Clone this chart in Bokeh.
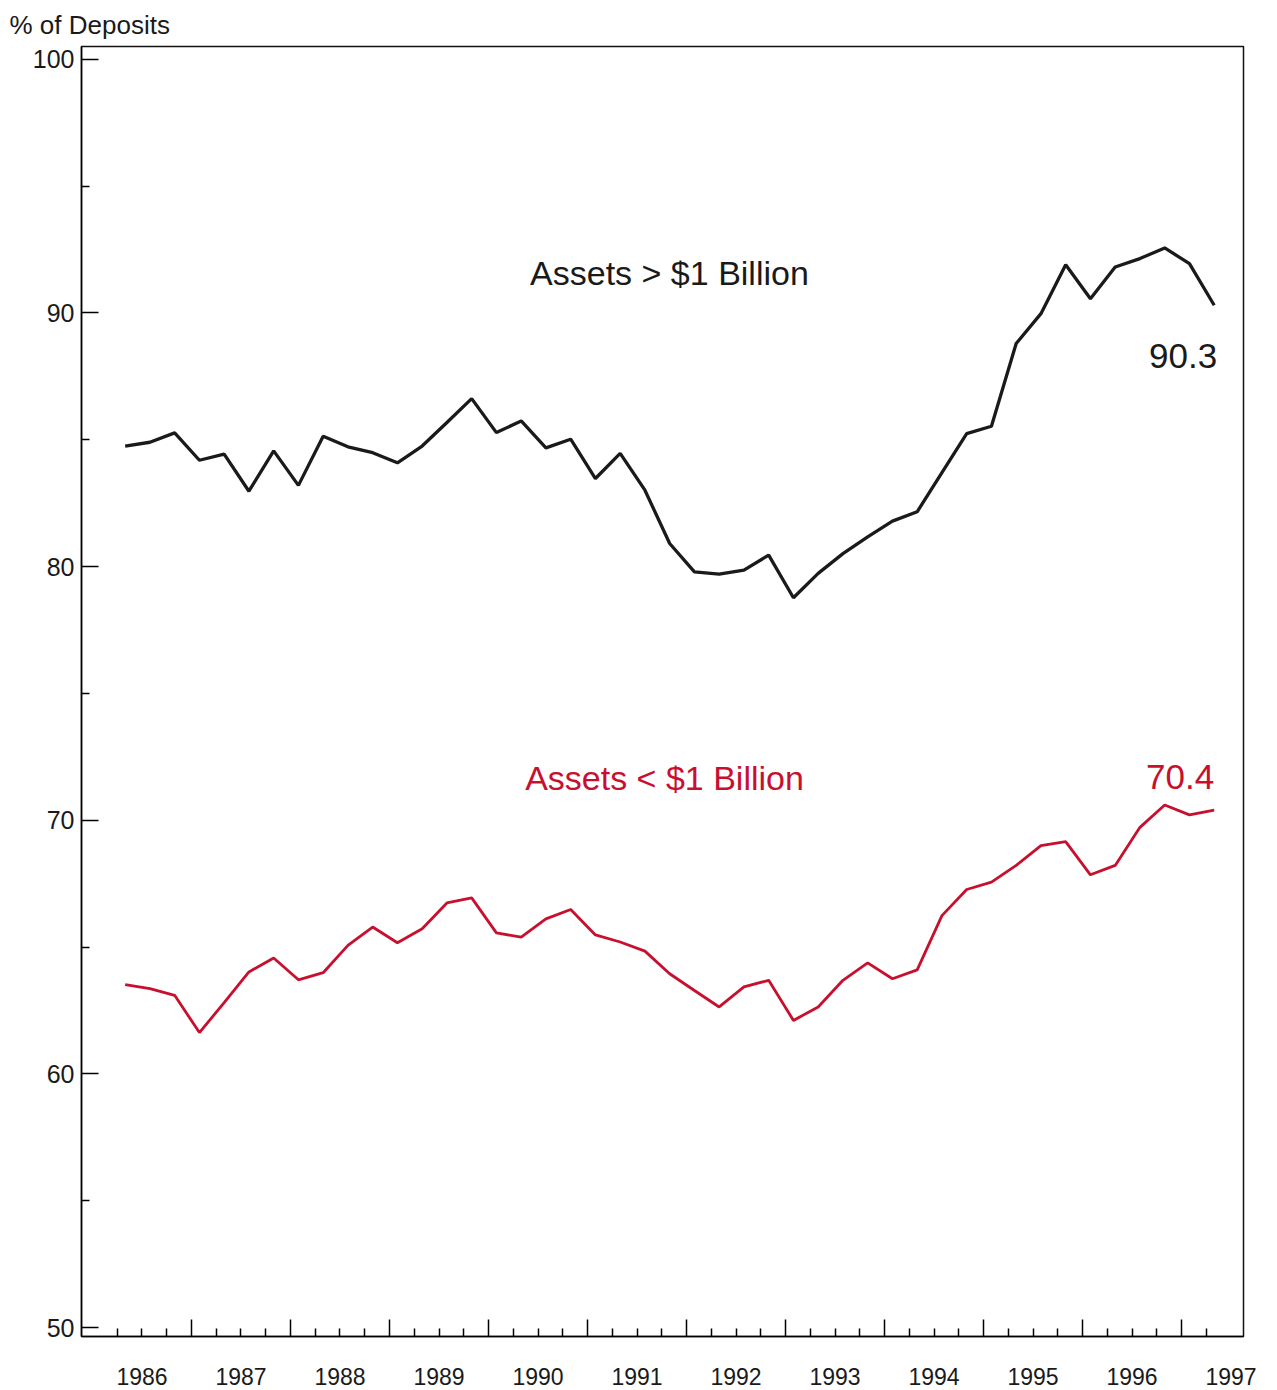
import numpy as np
from bokeh.plotting import figure
from bokeh.models import FixedTicker, LinearAxis, Range1d, Label
from bokeh.embed import file_html
from bokeh.resources import INLINE

# ---- data ----
label_years = list(range(1986, 1998))
year_labels = [str(y) for y in label_years]
first_quarter = 1986.33
n_quarters = 45
quarters = [first_quarter + 0.25 * i for i in range(n_quarters)]

large_banks = [84.75, 84.9, 85.27, 84.19, 84.43, 82.97, 84.56, 83.2, 85.14, 84.72,
               84.49, 84.09, 84.75, 85.68, 86.62, 85.28, 85.74, 84.68, 85.02, 83.47,
               84.46, 83.01, 80.91, 79.79, 79.70, 79.86, 80.45, 78.77, 79.73, 80.51,
               81.17, 81.79, 82.16, 83.7, 85.24, 85.53, 88.79, 89.97, 91.9, 90.56,
               91.81, 92.14, 92.56, 91.94, 90.3]
small_banks = [63.52, 63.36, 63.10, 61.63, 62.81, 64.02, 64.57, 63.71, 63.99, 65.07,
               65.79, 65.17, 65.72, 66.74, 66.94, 65.56, 65.39, 66.11, 66.48, 65.48,
               65.2, 64.84, 63.95, 63.29, 62.64, 63.43, 63.69, 62.11, 62.64, 63.69,
               64.38, 63.75, 64.1, 66.24, 67.27, 67.56, 68.22, 69.0, 69.16, 67.85,
               68.22, 69.72, 70.6, 70.21, 70.4]
large_name = "Assets > $1 Billion"
small_name = "Assets < $1 Billion"
y_major = [50, 60, 70, 80, 90, 100]
y_minor = [55, 65, 75, 85, 95]

RED = "#C8102E"
INK = "#1a1a1a"
FONT = "Liberation Sans"

p = figure(frame_width=1162, frame_height=1290,
           x_range=Range1d(1985.889, 1997.626), y_range=Range1d(49.65, 100.5),
           output_backend="svg", toolbar_location=None,
           x_axis_location=None, y_axis_location="left",
           min_border_left=81, min_border_right=25, min_border_top=45, min_border_bottom=54)
p.background_fill_color = "white"
p.border_fill_color = "white"
p.outline_line_color = "#111111"
p.outline_line_width = 1.5
p.xgrid.visible = False
p.ygrid.visible = False

# title
p.title.text = "% of Deposits"
p.title.text_font = FONT
p.title.text_font_size = "26px"
p.title.text_font_style = "normal"
p.title.text_color = INK
p.title.align = "left"
p.title.offset = -72
p.title.standoff = 14

# y axis
ya = p.yaxis[0]
ya.ticker = FixedTicker(ticks=y_major, minor_ticks=y_minor)
ya.major_tick_in = 17
ya.major_tick_out = 0
ya.minor_tick_in = 8
ya.minor_tick_out = 0
ya.major_tick_line_width = 1.5
ya.minor_tick_line_width = 1.5
ya.axis_line_width = 1.5
ya.major_label_text_font = FONT
ya.major_label_text_font_size = "25px"
ya.major_label_text_color = INK
ya.major_label_standoff = 7

# x axis: ticks only
year_bounds = [float(y) for y in label_years[1:]]
quarter_ticks = [y + q for y in label_years for q in (0.25, 0.5, 0.75)]
quarter_ticks = [t for t in quarter_ticks if t < 1997.5]
xa1 = LinearAxis(ticker=FixedTicker(ticks=year_bounds, minor_ticks=quarter_ticks))
xa1.major_tick_in = 17
xa1.major_tick_out = 0
xa1.minor_tick_in = 8
xa1.minor_tick_out = 0
xa1.major_tick_line_width = 1.5
xa1.minor_tick_line_width = 1.5
xa1.axis_line_width = 1.5
xa1.major_label_overrides = {t: "" for t in year_bounds}
xa1.major_label_text_font_size = "1px"
xa1.major_label_standoff = 0
p.add_layout(xa1, "below")

# x axis: year labels at mid-year
mid_years = [y + 0.5 for y in label_years]
xa2 = LinearAxis(ticker=FixedTicker(ticks=mid_years, minor_ticks=[]))
xa2.major_label_overrides = {m: lab for m, lab in zip(mid_years, year_labels)}
xa2.axis_line_color = None
xa2.major_tick_line_color = None
xa2.minor_tick_line_color = None
xa2.major_tick_in = 0
xa2.major_tick_out = 0
xa2.major_label_text_font = FONT
xa2.major_label_text_font_size = "23px"
xa2.major_label_text_color = INK
xa2.major_label_standoff = 31
p.add_layout(xa2, "below")

# lines
p.line(quarters, large_banks, line_color=INK, line_width=3.3)
p.line(quarters, small_banks, line_color=RED, line_width=2.8)

# labels
p.add_layout(Label(x=1990.42, y=91.58, text=large_name, text_font=FONT,
                   text_font_size="34px", text_color=INK,
                   text_baseline="middle", text_align="left"))
p.add_layout(Label(x=1990.37, y=71.65, text=small_name, text_font=FONT,
                   text_font_size="34px", text_color=RED,
                   text_baseline="middle", text_align="left"))
p.add_layout(Label(x=quarters[-1] + 0.03, y=large_banks[-1] - 2.0, text=f"{large_banks[-1]:.1f}",
                   text_font=FONT, text_font_size="35px", text_color=INK,
                   text_baseline="middle", text_align="right"))
p.add_layout(Label(x=quarters[-1], y=small_banks[-1] + 1.3, text=f"{small_banks[-1]:.1f}",
                   text_font=FONT, text_font_size="35px", text_color=RED,
                   text_baseline="middle", text_align="right"))

open("out.html", "w").write(file_html(p, INLINE))
